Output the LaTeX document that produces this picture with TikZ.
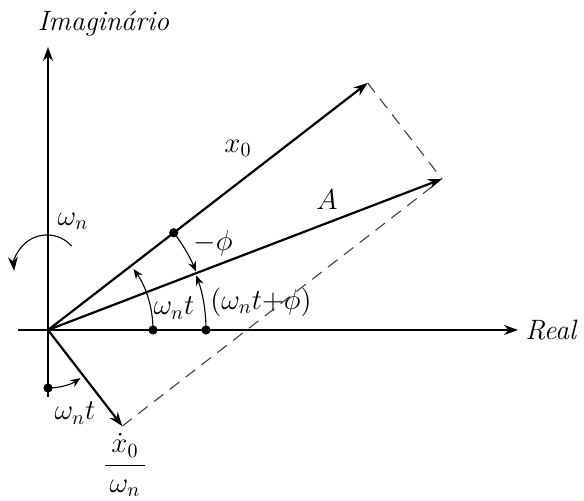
\documentclass[tikz,border=0pt]{standalone}
\usetikzlibrary{arrows.meta}
\begin{document}
\begin{tikzpicture}[x=50pt,y=50pt,>={Stealth[length=7pt,width=5pt]},
  font=\fontsize{14}{17}\selectfont,
  eixo/.style={->,line width=0.6pt},
  vec/.style={->,line width=1.1pt},
  aux/.style={dash pattern=on 6pt off 4pt,line width=0.55pt,black!75},
  arco/.style={-{Stealth[length=5pt,width=4pt]},line width=0.55pt},
  ponto/.style={circle,fill,inner sep=0pt,minimum size=4.6pt}]
  \useasboundingbox (-0.48,-1.71) rectangle (5.36,3.30);
  % eixos
  \coordinate (O) at (0,0);
  \coordinate (re0) at (-0.30,0);
  \coordinate (re1) at (4.70,0);
  \coordinate (im0) at (0,-0.67);
  \coordinate (im1) at (0,2.83);
  \draw[eixo] (re0) -- (re1) node[right] (real) {\textit{Real}};
  \draw[eixo] (im0) -- (im1);
  \node (imag) at (0.555,3.06) {\textit{Imaginário}};
  % fasores
  \coordinate (X0) at (37.7:4.04);
  \coordinate (XD) at (-52.3:1.215);
  \coordinate (A) at (3.94,1.51);
  \draw[vec] (O) -- (X0);
  \draw[vec] (O) -- (A);
  \draw[vec] (O) -- (XD);
  \draw[aux] (X0) -- (A);
  \draw[aux,shorten <=6pt] (A) -- (XD);
  \node (lx0) at (1.90,1.82) {$x_0$};
  \node (lA) at (2.79,1.30) {$A$};
  \node[inner sep=1pt] (lxd) at (0.77,-1.35) {$\displaystyle\frac{\,\dot{x}_0\,}{\,\omega_n\,}$};
  % angulos
  \node[ponto] (p1) at (1.05,0) {};
  \draw[arco] (p1) arc[start angle=0,end angle=35.5,radius=1.05];
  \node (lwt) at (1.26,0.22) {$\omega_n t$};
  \node[ponto] (p2) at (1.58,0) {};
  \draw[arco] (p2) arc[start angle=0,end angle=20.2,radius=1.58];
  \node (lwtf) at (2.13,0.28) {$(\omega_n t{+}\phi)$};
  \node[ponto] (p3) at (37.7:1.59) {};
  \draw[arco] (p3) arc[start angle=37.7,end angle=21.6,radius=1.59];
  \node (lphi) at (1.65,0.87) {$-\phi$};
  \node[ponto] (p4) at (0,-0.58) {};
  \draw[arco] (p4) arc[start angle=-90,end angle=-56,radius=0.58];
  \node (lwt2) at (0.27,-0.83) {$\omega_n t$};
  % rotacao
  \coordinate (r0) at (0.235,0.841);
  \draw[->,line width=0.55pt] (r0) arc[start angle=42,end angle=185,radius=0.33];
  \node (lwn) at (0.25,1.09) {$\omega_n$};
\end{tikzpicture}
\end{document}
